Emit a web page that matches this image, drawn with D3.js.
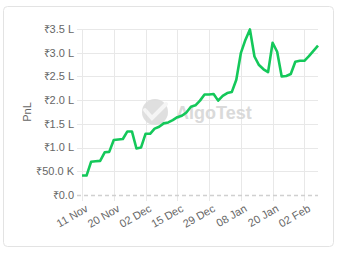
<!DOCTYPE html>
<html><head><meta charset="utf-8">
<script src="https://cdn.jsdelivr.net/npm/d3@7/dist/d3.min.js"></script>
<style>
html,body{margin:0;padding:0;background:#fff;}
svg{display:block;font-family:"Liberation Sans",Arial,sans-serif;}
</style></head><body>
<svg id="c" width="339" height="254"></svg>
<script>
const dates = ["11 Nov","12 Nov","13 Nov","15 Nov","16 Nov","17 Nov","18 Nov","20 Nov","21 Nov","22 Nov","24 Nov","28 Nov","29 Nov","01 Dec","02 Dec","05 Dec","06 Dec","08 Dec","11 Dec","12 Dec","14 Dec","15 Dec","19 Dec","20 Dec","21 Dec","22 Dec","26 Dec","28 Dec","29 Dec","01 Jan","02 Jan","03 Jan","04 Jan","05 Jan","06 Jan","08 Jan","10 Jan","11 Jan","12 Jan","15 Jan","17 Jan","19 Jan","20 Jan","23 Jan","24 Jan","25 Jan","29 Jan","30 Jan","01 Feb","02 Feb","05 Feb","06 Feb","07 Feb"];
const pnl = [41000,41000,70000,71000,72000,90000,91000,116000,117000,118000,134000,134000,98000,100000,129000,129000,140000,144000,151000,153000,158000,164000,167000,174000,186000,189000,199000,212000,212000,213000,199000,209000,215000,217000,243000,299000,327000,349000,292000,274000,265000,259000,321000,302000,250000,251000,255000,281000,283000,283000,293000,304000,315000];
const yTicks = [0,50000,100000,150000,200000,250000,300000,350000];
const yTickLabels = ["₹0.0","₹50.0 K","₹1.0 L","₹1.5 L","₹2.0 L","₹2.5 L","₹3.0 L","₹3.5 L"];
const xTickLabels = ["11 Nov","20 Nov","02 Dec","15 Dec","29 Dec","08 Jan","20 Jan","02 Feb"];

const W=339,H=254, m={l:82,r:21,t:29,b:59};
const svg=d3.select("#c");
svg.append("rect").attr("x",3.5).attr("y",6.5).attr("width",330).attr("height",240).attr("rx",4)
  .attr("fill","#fff").attr("stroke","#e3e3e3");

const x=d3.scalePoint().domain(dates).range([m.l,W-m.r]);
const y=d3.scaleLinear().domain([0,350000]).range([H-m.b,m.t]);

// horizontal grid
const gy=svg.append("g");
gy.selectAll("line").data(yTicks.filter(v=>v>0)).join("line")
  .attr("x1",m.l-5).attr("x2",W-m.r).attr("y1",d=>Math.round(y(d))+0.5).attr("y2",d=>Math.round(y(d))+0.5)
  .attr("stroke","#e8e8e8");
// vertical grid
const tickDates = dates.filter(d=>xTickLabels.includes(d));
svg.append("g").selectAll("line").data(tickDates).join("line")
  .attr("x1",d=>Math.round(x(d))+0.5).attr("x2",d=>Math.round(x(d))+0.5)
  .attr("y1",m.t).attr("y2",H-m.b+6).attr("stroke","#e8e8e8");
// zero line dashed
svg.append("line").attr("x1",m.l-5).attr("x2",W-m.r).attr("y1",y(0)+0.5).attr("y2",y(0)+0.5)
  .attr("stroke","#d0d0d0").attr("stroke-width",1.3).attr("stroke-dasharray","4,3");

// y tick labels
svg.append("g").selectAll("text").data(yTicks).join("text")
  .attr("x",m.l-8).attr("y",d=>y(d)).attr("dy","0.35em").attr("text-anchor","end")
  .attr("font-size",11).attr("fill","#666").text((d,i)=>yTickLabels[i]);
// x tick labels
svg.append("g").selectAll("text").data(tickDates).join("text")
  .attr("transform",d=>`translate(${x(d)+3},${H-m.b+9}) rotate(-30)`)
  .attr("text-anchor","end").attr("dy","0.7em")
  .attr("font-size",11).attr("fill","#666").text(d=>d);
// y title
svg.append("text").attr("transform",`translate(31,${(m.t+H-m.b)/2}) rotate(-90)`)
  .attr("text-anchor","middle").attr("font-size",11).attr("fill","#666").text("PnL");

// watermark
const wm=svg.append("g").attr("opacity",0.9);
wm.append("circle").attr("cx",155).attr("cy",112).attr("r",13).attr("fill","#dcdcdc");
wm.append("path").attr("d","M145,110 L152,118 L166,104").attr("fill","none").attr("stroke","#f4f4f4").attr("stroke-width",4).attr("stroke-linecap","round");
wm.append("text").attr("x",176).attr("y",119).attr("font-size",18).attr("font-weight","bold")
  .attr("fill","#d6d6d6").text("AlgoTest");

// line
svg.append("path").datum(pnl.map((v,i)=>[dates[i],v]))
  .attr("fill","none").attr("stroke","#14c85a").attr("stroke-width",2.6).attr("stroke-linejoin","round")
  .attr("d",d3.line().x(d=>x(d[0])).y(d=>y(d[1])));
</script></body></html>
